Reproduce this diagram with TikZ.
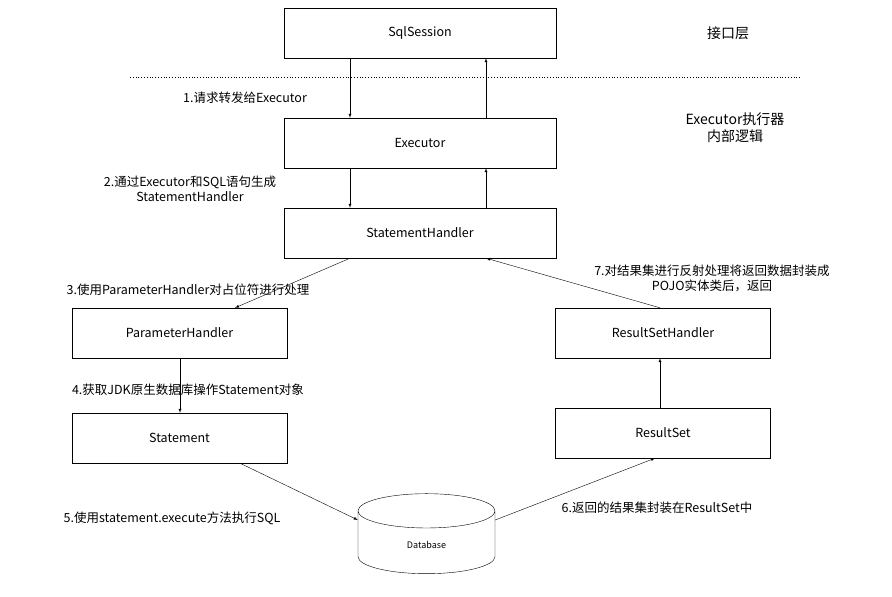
\documentclass[tikz,border=0pt]{standalone}
\usepackage{fontspec}
\setmainfont{Noto Sans CJK SC}
\usetikzlibrary{positioning,shapes.geometric}

\begin{document}
\begin{tikzpicture}[x=1pt,y=-1pt,font=\fontsize{12.5}{15}\selectfont,
    box/.style={draw, minimum height=50pt, inner sep=0pt},
    wide/.style={box, minimum width=272pt},
    small/.style={box, minimum width=215pt},
    arr/.style={-latex}]
    \useasboundingbox (0,0) rectangle (892,597);
    % boxes
    \node[wide] (sql) at (420,33) {SqlSession};
    \node[wide] (exec) at (420,143) {Executor};
    \node[wide] (sh) at (420,233) {StatementHandler};
    \node[small] (ph) at (179.5,333) {ParameterHandler};
    \node[small] (st) at (179.5,438) {Statement};
    \node[small] (rsh) at (663,333) {ResultSetHandler};
    \node[small] (rs) at (663,433) {ResultSet};
    \node[cylinder, shape border rotate=90, draw, aspect=0.75, minimum width=137pt, minimum height=80pt, font=\fontsize{9}{11}\selectfont, text depth=-10pt] (db) at (426.5,545) {Database};
    \draw[dotted, thick] (130,77) -- (800,77);
    % connectors
    \draw[arr] (sql.south -| 350,0) -- (exec.north -| 350,0);
    \draw[arr] (exec.north -| 486,0) -- (sql.south -| 486,0);
    \draw[arr] (exec.south -| 350,0) -- (sh.north -| 350,0);
    \draw[arr] (sh.north -| 486,0) -- (exec.south -| 486,0);
    \draw[arr] (sh.south -| 350,0) -- (ph.north -| 235,0);
    \draw[arr] (ph.south -| 180,0) -- (st.north -| 180,0);
    \draw[arr] (st.south -| 240,0) -- (db.160);
    \draw[arr] (db.20) -- (rs.south -| 655,0);
    \draw[arr] (rs.north -| 660,0) -- (rsh.south -| 660,0);
    \draw[arr] (rsh.north -| 660,0) -- (sh.south -| 486,0);
    % labels
    \node (l1) at (245,98) {1.请求转发给Executor};
    \node[align=center] (l2) at (190,189) {2.通过Executor和SQL语句生成\\StatementHandler};
    \node (l3) at (188,290) {3.使用ParameterHandler对占位符进行处理};
    \node (l4) at (188,390) {4.获取JDK原生数据库操作Statement对象};
    \node (l5) at (172,518) {5.使用statement.execute方法执行SQL};
    \node (l6) at (657,508) {6.返回的结果集封装在ResultSet中};
    \node[align=center] (l7) at (712,278) {7.对结果集进行反射处理将返回数据封装成\\POJO实体类后，返回};
    \node[font=\fontsize{14}{17}\selectfont] (layer) at (728,33) {接口层};
    \node[align=center, font=\fontsize{14}{17}\selectfont] (inner) at (735,128) {Executor执行器\\内部逻辑};
\end{tikzpicture}
\end{document}
